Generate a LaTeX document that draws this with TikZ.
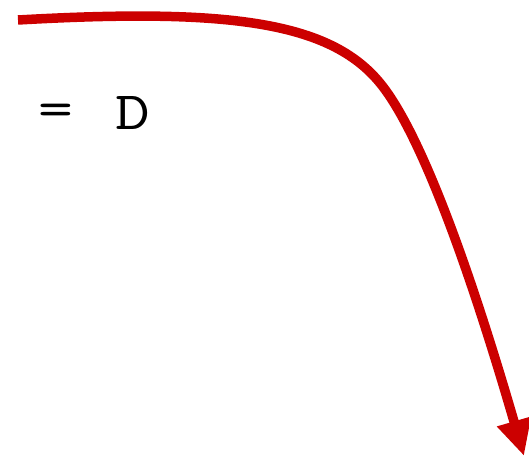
\documentclass[tikz,border=0pt]{standalone}
\usetikzlibrary{arrows.meta}
\definecolor{arrowred}{RGB}{204,0,0}
\begin{document}
\begin{tikzpicture}[x=1pt, y=-1pt, every node/.style={font=\ttfamily\fontsize{54}{64}\selectfont, inner sep=0pt, xscale=1.25}]
    \useasboundingbox (0,0) rectangle (529,457);

    % Надпись
    \node (eq) at (56,115) {=};
    \node (d) at (133,113.5) {D};

    % Стрелка
    \coordinate (start) at (18,20);
    \coordinate (bend) at (380,83);
    \coordinate (tip) at (524,456);
    \draw[arrowred, line width=9.5pt, -{Triangle[length=36pt, width=33pt]}]
        (start) .. controls (230,8) and (330,22) .. (bend)
                .. controls (421,133) and (470,270) .. (tip);
\end{tikzpicture}
\end{document}
